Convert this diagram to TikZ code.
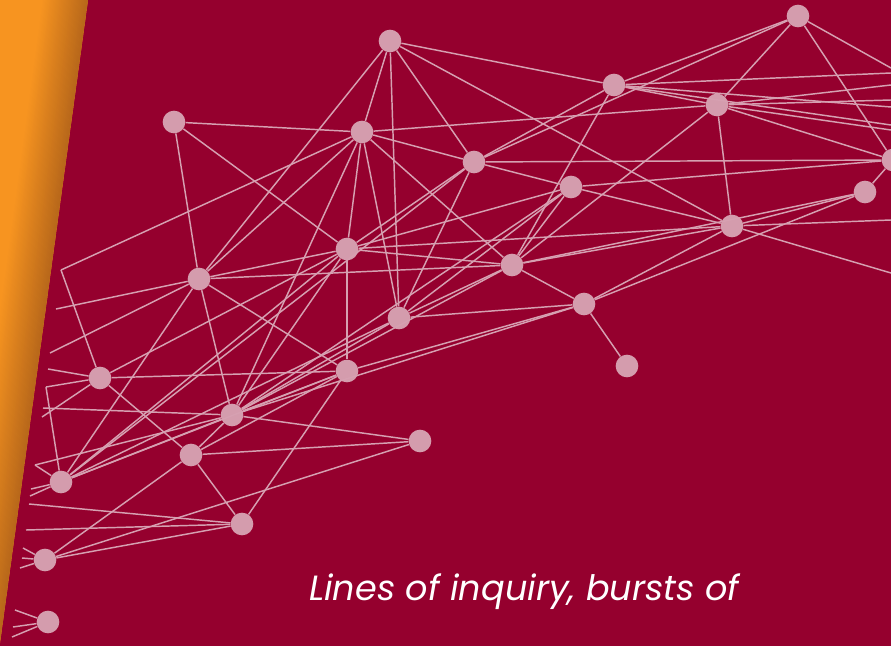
\documentclass[tikz,border=0pt]{standalone}
\usepackage{fontspec}
\newfontfamily\capfont{Poppins}
\usetikzlibrary{calc}

\definecolor{wine}{RGB}{149,0,46}
\definecolor{stripOrange}{RGB}{247,148,32}
\definecolor{stripBrown}{RGB}{184,104,26}
\definecolor{dotpink}{RGB}{212,156,173}
\definecolor{linkpink}{RGB}{214,160,177}

\tikzset{
    dot/.style  = {circle, fill = dotpink, minimum size = 6.8mm, inner sep = 0pt},
    link/.style = {draw = linkpink, line width = 1.25pt},
}

\begin{document}
\begin{tikzpicture}[x = 0.3mm, y = -0.3mm]

    \fill[wine] (0,0) rectangle (891,646);
    \useasboundingbox (0,0) rectangle (891,646);

    % slanted strip on the left, darker towards its edge
    \begin{scope}
        \clip (0,0) -- (88,0) -- (0,643) -- cycle;
        \fill[stripOrange] (0,0) rectangle (88,646);
        \foreach \k in {0,...,39}{
            \pgfmathsetmacro\OUTER{45 - \k*1.125}
            \pgfmathsetmacro\INNER{\OUTER - 1.6}
            \pgfmathsetmacro\MIX{(\k+1)*2.5}
            \fill[stripBrown!\MIX!stripOrange]
                (88-\OUTER,0) -- (88-\INNER,0) -- (-\INNER,643) -- (-\OUTER,643) -- cycle;
        }
    \end{scope}

    % dots
    \foreach \NAME/\X/\Y in {A/390/41, B/174/122, C/362/132, D/474/162, E/614/85, F/717/105,
        G/798/16, H/571/187, I/865/192, J/893/160, K/732/226, L/347/249, M/512/265,
        N/199/279, O/584/304, P/399/318, Q/627/366, R/100/378, S/347/371, T/232/415,
        U/420/441, V/191/455, W/61/482, X/242/524, Y/45/560, Z/48/622}
        {\node[dot] (\NAME) at (\X,\Y) {};}

    % loose ends at the left
    \foreach \NAME/\X/\Y in {c1/61/270, c2/46/387, c3/35/465, L1/56/309, L2/50/353, L3/48/369,
        L4/42/417, L5/43/408, L6/31/489, L7/30/496, L8/29/504, L9/26/530, L10/23/548,
        L11/22/558, L12/20/568, L13/15/610, L14/13/627, L15/12/637}
        {\coordinate (\NAME) at (\X,\Y);}

    % loose ends at the right
    \foreach \NAME/\Y in {R1/68, R2/73, R3/85, R4/100, R5/107, R6/125, R7/130, R8/220, R9/273}
        {\coordinate (\NAME) at (891,\Y);}

    \foreach \FROM/\TO in {A/C, A/D, A/E, A/N, A/P, A/K, B/C, B/L, B/N,
        C/D, C/L, C/M, C/N, C/T, C/P, C/F, C/c1, c1/R,
        D/H, D/E, D/G, D/L, D/P, D/W, D/J,
        E/G, E/M, E/F, E/R2, E/R5, E/R6,
        F/G, F/K, F/M, F/R3, F/R4, F/R7, F/J, G/J, G/R1,
        H/K, H/M, H/L, H/P, H/J, H/T, I/K, I/J, I/O,
        K/O, K/M, K/L, K/R8, K/R9,
        L/M, L/N, L/S, L/T, L/R,
        M/N, M/O, M/P, M/I, M/T,
        N/T, N/S, N/W, N/L1, N/L2,
        O/P, O/Q, O/S, O/T, P/T, P/W,
        R/S, R/V, R/c2, c2/W, R/L3, R/L4,
        S/T, S/X, S/V, S/W,
        T/U, T/V, T/W, T/L5, T/c3, c3/W,
        U/V, U/Y, V/X, V/Y, X/Y, L/W,
        W/L6, W/L7, X/L8, X/L9, Y/L10, Y/L11, Y/L12,
        Z/L13, Z/L14, Z/L15}
        {\draw[link] (\FROM) -- (\TO);}

    \node[anchor = base west, inner sep = 0pt, text = white] (caption) at (309,600)
        {\resizebox{129mm}{!}{\capfont\itshape Lines of inquiry, bursts of}};

\end{tikzpicture}
\end{document}
